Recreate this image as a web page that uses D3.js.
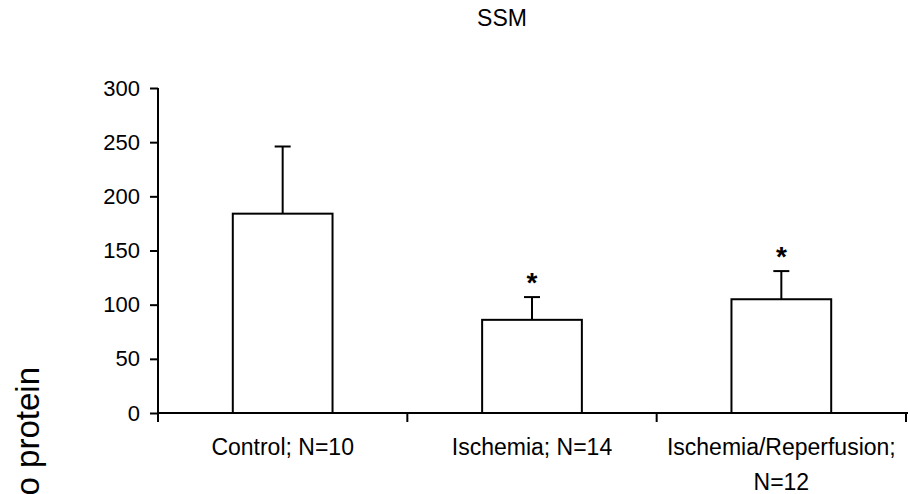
<!DOCTYPE html>
<html lang="en">
<head>
<meta charset="utf-8">
<title>SSM</title>
<script src="https://d3js.org/d3.v7.min.js"></script>
<style>
  body { margin: 0; background: #fff; }
  svg { display: block; font-family: "Liberation Sans", Arial, sans-serif; }
</style>
</head>
<body>
<svg width="908" height="494"></svg>
<script>
// chart data
var categories = ["Control; N=10", "Ischemia; N=14", "Ischemia/Reperfusion; N=12"];
var means = [184, 86, 105];
var errors = [62, 21, 26];
var significant = [false, true, true];
var yTicks = [0, 50, 100, 150, 200, 250, 300];
var title = "SSM";
var yLabel = "o protein";

var svg = d3.select("svg");

var x = d3.scaleBand()
    .domain(categories)
    .range([158, 906])
    .paddingInner(0.6)
    .paddingOuter(0.3);

var y = d3.scaleLinear()
    .domain([0, 300])
    .range([413, 88]);

// title
svg.append("text")
    .attr("x", 502)
    .attr("y", 26)
    .attr("text-anchor", "middle")
    .style("font-size", "23px")
    .text(title);

// y axis label (clipped at the bottom edge like the original)
svg.append("text")
    .attr("transform", "translate(39,367) rotate(-90)")
    .attr("text-anchor", "end")
    .style("font-size", "33px")
    .text(yLabel);

// y axis
var yAxis = svg.append("g")
    .attr("transform", "translate(158,0)")
    .call(d3.axisLeft(y).tickValues(yTicks).tickSize(8).tickPadding(10).tickSizeOuter(0));
yAxis.select(".domain").remove();
yAxis.selectAll("line").attr("stroke", "#000").attr("stroke-width", 2);
yAxis.selectAll("text").style("font-size", "22px").attr("fill", "#000");
yAxis.append("line")
    .attr("x1", 0).attr("x2", 0)
    .attr("y1", y(300)).attr("y2", 422)
    .attr("stroke", "#000").attr("stroke-width", 2);

// x axis line and band boundary ticks
svg.append("line")
    .attr("x1", 158).attr("x2", 908)
    .attr("y1", y(0)).attr("y2", y(0))
    .attr("stroke", "#000").attr("stroke-width", 2);

var bounds = categories.map(function(d) { return x(d) - x.step() * x.paddingOuter(); });
bounds.push(x.range()[1]);
svg.selectAll(".xtick")
    .data(bounds.slice(1))
  .enter().append("line")
    .attr("class", "xtick")
    .attr("x1", function(d) { return d; }).attr("x2", function(d) { return d; })
    .attr("y1", y(0)).attr("y2", y(0) + 9)
    .attr("stroke", "#000").attr("stroke-width", 2);

// category labels, wrapped when too wide
var labels = svg.selectAll(".xlabel")
    .data(categories)
  .enter().append("text")
    .attr("class", "xlabel")
    .attr("text-anchor", "middle")
    .style("font-size", "23px");

labels.each(function(d) {
  var t = d3.select(this);
  var cx = x(d) + x.bandwidth() / 2;
  t.text(d);
  var lines = [d];
  if (this.getComputedTextLength() > x.step() - 8) {
    var i = d.lastIndexOf(" ");
    lines = [d.slice(0, i), d.slice(i + 1)];
  }
  t.text(null);
  lines.forEach(function(line, k) {
    t.append("tspan")
        .attr("x", cx)
        .attr("y", 455 + k * 35)
        .text(line);
  });
});

// error bars (upper only)
var err = svg.selectAll(".err")
    .data(categories)
  .enter().append("g")
    .attr("class", "err");

err.append("line")
    .attr("x1", function(d) { return x(d) + x.bandwidth() / 2; })
    .attr("x2", function(d) { return x(d) + x.bandwidth() / 2; })
    .attr("y1", function(d, i) { return y(means[i]); })
    .attr("y2", function(d, i) { return y(means[i] + errors[i]); })
    .attr("stroke", "#000").attr("stroke-width", 2);

err.append("line")
    .attr("x1", function(d) { return x(d) + x.bandwidth() / 2 - 8; })
    .attr("x2", function(d) { return x(d) + x.bandwidth() / 2 + 8; })
    .attr("y1", function(d, i) { return y(means[i] + errors[i]); })
    .attr("y2", function(d, i) { return y(means[i] + errors[i]); })
    .attr("stroke", "#000").attr("stroke-width", 2);

// bars
svg.selectAll(".bar")
    .data(categories)
  .enter().append("rect")
    .attr("class", "bar")
    .attr("x", function(d) { return x(d); })
    .attr("width", x.bandwidth())
    .attr("y", function(d, i) { return y(means[i]); })
    .attr("height", function(d, i) { return y(0) - y(means[i]); })
    .attr("fill", "#fff")
    .attr("stroke", "#000")
    .attr("stroke-width", 2);

// significance marks
svg.selectAll(".star")
    .data(categories.filter(function(d, i) { return significant[i]; }))
  .enter().append("text")
    .attr("class", "star")
    .attr("text-anchor", "middle")
    .attr("x", function(d) { return x(d) + x.bandwidth() / 2; })
    .attr("y", function(d) {
      var i = categories.indexOf(d);
      return y(means[i] + errors[i]) - 5;
    })
    .style("font-size", "28px")
    .style("font-weight", "bold")
    .text("*");
</script>
</body>
</html>
